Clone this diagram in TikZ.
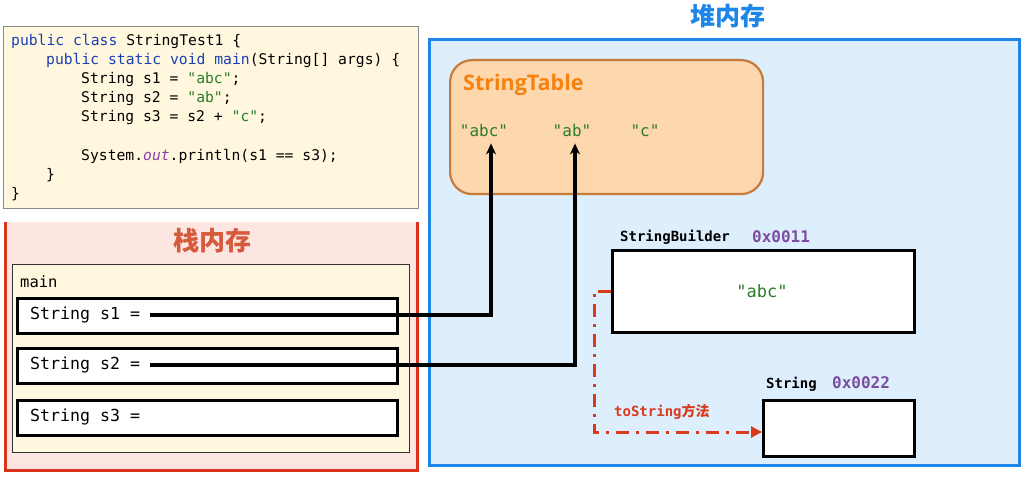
\documentclass[tikz,border=0pt]{standalone}
\usepackage{fontspec}
\setmainfont{Open Sans}
\newfontfamily\codefont{DejaVu Sans Mono}
\newfontfamily\cjk{Noto Sans CJK SC}
\newfontfamily\uifont{Open Sans}
\usetikzlibrary{arrows.meta}
\definecolor{codebg}{HTML}{FFF8DF}
\definecolor{codeborder}{HTML}{8A8A8A}
\definecolor{kw}{HTML}{1B3FB5}
\definecolor{strg}{HTML}{2A7D2A}
\definecolor{outc}{HTML}{8B3FA8}
\definecolor{stackbg}{HTML}{FDE6E2}
\definecolor{stackred}{HTML}{D9331C}
\definecolor{stacktitle}{HTML}{D65A3C}
\definecolor{heapbg}{HTML}{DDEEFD}
\definecolor{heapblue}{HTML}{1E86E8}
\definecolor{tablebg}{HTML}{FDD7AE}
\definecolor{tableborder}{HTML}{C77B38}
\definecolor{tabletitle}{HTML}{F5820F}
\definecolor{addr}{HTML}{7A4E9E}
\definecolor{tosred}{HTML}{D93A1C}
\tikzset{
  codeline/.style={anchor=base west, inner sep=0pt, font=\codefont\fontsize{14.7}{16}\selectfont},
  varbox/.style={draw=black, line width=2.8pt, fill=white},
  vartext/.style={anchor=west, inner sep=0pt, font=\codefont\fontsize{16.6}{18}\selectfont},
  ref/.style={draw=black, line width=3.2pt, -{Stealth[length=11pt,width=10pt]}},
  tos/.style={draw=tosred, line width=3pt, dash pattern=on 13pt off 7pt on 3pt off 7pt, -{Triangle[length=11pt,width=11pt]}},
  tabstr/.style={inner sep=0pt, anchor=base, text=strg, font=\codefont\fontsize{16}{20}\selectfont},
  objlabel/.style={anchor=base west, inner sep=0pt, font=\codefont\bfseries\fontsize{14}{16}\selectfont},
  addrlabel/.style={anchor=base west, inner sep=0pt, text=addr, font=\codefont\bfseries\fontsize{16}{18}\selectfont},
}
\begin{document}
\begin{tikzpicture}[x=1pt,y=-1pt]
\useasboundingbox (0,0) rectangle (1024,478);
\fill[white] (0,0) rectangle (1024,478);
% code box
\node[draw=codeborder, fill=codebg, line width=0.8pt, minimum width=415pt, minimum height=182pt, anchor=north west, inner sep=0pt] (code) at (3,26) {};
\node[codeline] (c1) at (11,46) {\textcolor{kw}{public class} StringTest1 \{};
\node[codeline] (c2) at (46,65) {\textcolor{kw}{public static void main}(String[] args) \{};
\node[codeline] (c3) at (81,84) {String s1 = \textcolor{strg}{"abc"};};
\node[codeline] (c4) at (81,103) {String s2 = \textcolor{strg}{"ab"};};
\node[codeline] (c5) at (81,122) {String s3 = s2 + \textcolor{strg}{"c"};};
\node[codeline] (c6) at (81,161) {System.\textcolor{outc}{\itshape out}.println(s1 == s3);};
\node[codeline] (c7) at (46,180) {\}};
\node[codeline] (c8) at (11,199) {\}};
% stack
\fill[stackbg] (5,222) rectangle (417,470);
\draw[stackred, line width=3pt] (5,222) -- (5,470) -- (417,470) -- (417,222);
\node[text=stacktitle, font=\cjk\bfseries\fontsize{26}{28}\selectfont, inner sep=0pt] (stitle) at (212,241) {栈内存};
\node[draw=black!80, fill=codebg, line width=0.9pt, minimum width=397pt, minimum height=188pt, anchor=north west, inner sep=0pt] (mainf) at (12,264) {};
\node[anchor=base west, inner sep=0pt, font=\codefont\fontsize{15.5}{18}\selectfont] (mainl) at (20,287) {main};
\node[varbox, minimum width=380pt, minimum height=35pt, anchor=north west, inner sep=0pt] (b1) at (16,297) {};
\node[varbox, minimum width=380pt, minimum height=35pt, anchor=north west, inner sep=0pt] (b2) at (16,347) {};
\node[varbox, minimum width=380pt, minimum height=35pt, anchor=north west, inner sep=0pt] (b3) at (16,399) {};
\node[vartext] (t1) at (30,315) {String s1 =};
\node[vartext] (t2) at (30,365) {String s2 =};
\node[vartext] (t3) at (30,417) {String s3 =};
% heap
\node[draw=heapblue, fill=heapbg, line width=3pt, minimum width=590pt, minimum height=426pt, anchor=north west, inner sep=0pt] (heap) at (428,38) {};
\node[text=heapblue, font=\cjk\bfseries\fontsize{25}{27}\selectfont, inner sep=0pt] (htitle) at (728,16) {堆内存};
% string table
\node[draw=tableborder, fill=tablebg, line width=2.2pt, rounded corners=22pt, minimum width=313pt, minimum height=134pt, anchor=north west, inner sep=0pt] (table) at (449,59) {};
\node[anchor=base west, inner sep=0pt, text=tabletitle, font=\uifont\bfseries\fontsize{21.5}{24}\selectfont] (ttitle) at (463,91) {StringTable};
\node[tabstr] (sabc) at (484,137) {"abc"};
\node[tabstr] (sab) at (572,137) {"ab"};
\node[tabstr] (sc) at (645,137) {"c"};
% StringBuilder
\node[objlabel] (sbl) at (620,241) {StringBuilder};
\node[addrlabel] (sba) at (752,242) {0x0011};
\node[varbox, minimum width=302pt, minimum height=82pt, anchor=north west, inner sep=0pt] (sb) at (611,249) {};
\node[inner sep=0pt, text=strg, font=\codefont\fontsize{17}{20}\selectfont] (sbv) at (762,291) {"abc"};
% String
\node[objlabel] (strl) at (766,388) {String};
\node[addrlabel] (stra) at (832,388) {0x0022};
\node[varbox, minimum width=151pt, minimum height=56pt, anchor=north west, inner sep=0pt] (str) at (762,399) {};
\node[anchor=base west, inner sep=0pt, text=tosred, font=\codefont\bfseries\fontsize{14}{16}\selectfont] (tosl) at (614,416) {toString\cjk 方法};
% connectors
\draw[ref] ([xshift=10pt]t1.east) -| ([xshift=7pt,yshift=-6pt]sabc.south);
\draw[ref] ([xshift=10pt]t2.east) -| ([xshift=3pt,yshift=-6pt]sab.south);
\draw[tos] (sb.west) -- ++(-17,0) |- (str.west |- 0,432);
\end{tikzpicture}
\end{document}
